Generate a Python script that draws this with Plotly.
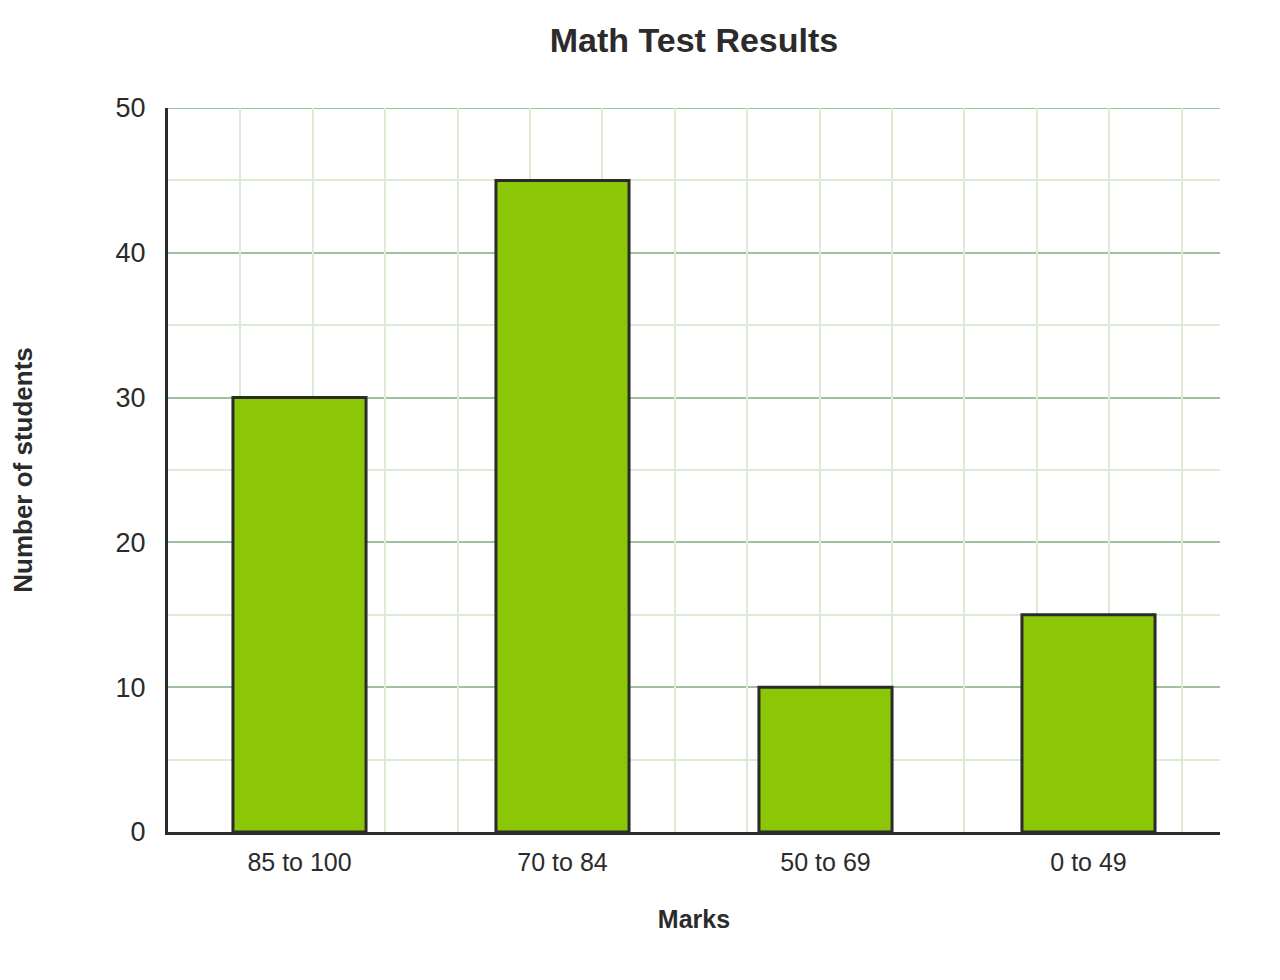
import plotly.graph_objects as go

categories = ["85 to 100", "70 to 84", "50 to 69", "0 to 49"]
students = [30, 45, 10, 15]
y_ticks = [0, 10, 20, 30, 40, 50]

W, H = 1280, 980
OFF = 8  # page body margin
ML, MR, MT, MB = 168 - OFF, 60 + OFF, 108 - OFF, 148 + OFF
plot_w = W - ML - MR
plot_h = H - MT - MB
y_max = 50

fig = go.Figure()
fig.add_trace(go.Bar(
    x=categories, y=students,
    marker=dict(color="#8bc706", line=dict(color="#2b2b2b", width=3)),
    hoverinfo="x+y",
))
# invisible trace to keep the square-grid overlay axis alive
fig.add_trace(go.Scatter(x=[0], y=[0], xaxis="x2", yaxis="y",
                         mode="markers", marker=dict(opacity=0), showlegend=False,
                         hoverinfo="skip"))

# top gridline at the range edge
fig.add_shape(type="line", xref="paper", yref="y", x0=0, x1=1, y0=y_max, y1=y_max,
              line=dict(color="#9cc19c", width=2), layer="below")

font = "Liberation Sans, Arial, sans-serif"
fig.update_layout(
    width=W, height=H,
    margin=dict(l=ML, r=MR, t=MT, b=MB),
    paper_bgcolor="white", plot_bgcolor="white",
    showlegend=False,
    bargap=0.494,
    title=dict(text="<b>Math Test Results</b>", x=(ML + plot_w / 2) / W, xanchor="center",
               y=1 - (40 - OFF) / H, yanchor="middle",
               font=dict(family=font, size=34, color="#2b2b2b")),
    xaxis=dict(
        type="category", range=[-0.5, 3.5],
        showgrid=False, showline=True, linecolor="#2b2b2b", linewidth=3,
        ticks="", ticklabelstandoff=6,
        tickfont=dict(family=font, size=25, color="#2b2b2b"),
        title=dict(text="<b>Marks</b>", font=dict(family=font, size=25, color="#2b2b2b"), standoff=36),
        zeroline=False,
    ),
    xaxis2=dict(
        overlaying="x", anchor="y", range=[0, y_max * plot_w / plot_h],
        tick0=0, dtick=5, showgrid=True, gridcolor="#dcebd3", gridwidth=2,
        showticklabels=False, ticks="", showline=False, zeroline=False,
    ),
    yaxis=dict(
        range=[0, y_max], tickvals=y_ticks,
        showgrid=True, gridcolor="#9cc19c", gridwidth=2,
        minor=dict(dtick=5, showgrid=True, gridcolor="#dcebd3", gridwidth=2, ticks=""),
        showline=True, linecolor="#2b2b2b", linewidth=3,
        ticks="", ticklabelstandoff=14,
        tickfont=dict(family=font, size=27, color="#2b2b2b"),
        title=dict(text="<b>Number of students</b>", font=dict(family=font, size=26, color="#2b2b2b"),
                   standoff=76),
        zeroline=False,
    ),
)

fig.write_html("out.html")
